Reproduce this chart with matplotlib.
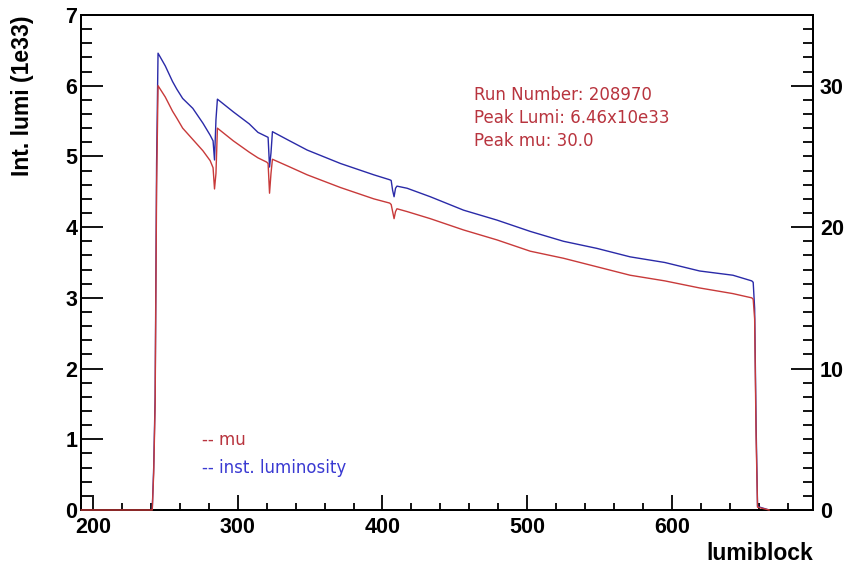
import matplotlib
matplotlib.use("Agg")
import matplotlib.pyplot as plt
from matplotlib.ticker import MultipleLocator

lumiblock = [192, 241, 242, 243, 244, 245, 250, 255, 258, 262, 269, 276, 281, 283,
             284, 285, 286, 297, 308, 314, 320, 321, 322, 323, 324, 335, 348, 371,
             394, 405, 406, 407, 408, 409, 410, 417, 433, 456, 479, 502, 525, 548,
             571, 595, 619, 642, 655, 656, 657, 658, 659, 667]

# instantaneous luminosity (1e33), left axis
inst_lumi = [0, 0, 0.6, 1.6, 4.9, 6.46, 6.28, 6.06, 5.95, 5.82, 5.68, 5.47, 5.30, 5.22,
             4.95, 5.52, 5.81, 5.63, 5.46, 5.34, 5.28, 5.27, 4.85, 5.05, 5.35, 5.23, 5.09, 4.90,
             4.74, 4.67, 4.66, 4.52, 4.43, 4.55, 4.58, 4.55, 4.43, 4.24, 4.10, 3.94, 3.80, 3.70,
             3.58, 3.50, 3.38, 3.32, 3.24, 3.22, 2.85, 1.2, 0.05, 0]

# pile-up mu, right axis
mu = [0, 0, 2.6, 7.5, 22.8, 30.0, 29.2, 28.2, 27.7, 27.0, 26.2, 25.4, 24.7, 24.2,
      22.7, 23.8, 27.0, 26.1, 25.3, 24.9, 24.6, 24.5, 22.4, 23.8, 24.8, 24.3, 23.7, 22.8,
      22.0, 21.7, 21.6, 21.1, 20.6, 21.1, 21.3, 21.1, 20.6, 19.8, 19.1, 18.3, 17.8, 17.2,
      16.6, 16.2, 15.7, 15.3, 15.0, 14.9, 13.5, 5.2, 0.2, 0]

run_info = ["Run Number: 208970", "Peak Lumi: 6.46x10e33", "Peak mu: 30.0"]

blue = "#2a2aa8"
red = "#c83a3a"
text_red = "#b8343e"
text_blue = "#3a3ad2"

fig = plt.figure(figsize=(8.44, 5.67), dpi=100)
ax = fig.add_axes([81 / 844, 57 / 567, 732 / 844, 495 / 567])
ax2 = ax.twinx()

ax.plot(lumiblock, inst_lumi, color=blue, lw=1.0)
ax2.plot(lumiblock, mu, color=red, lw=1.0, zorder=3, clip_on=False)

ax.set_xlim(191.8, 697.3)
ax.set_ylim(0, 7)
ax2.set_ylim(0, 35)

ax.xaxis.set_major_locator(MultipleLocator(100))
ax.xaxis.set_minor_locator(MultipleLocator(20))
ax.yaxis.set_major_locator(MultipleLocator(1))
ax.yaxis.set_minor_locator(MultipleLocator(0.2))
ax2.yaxis.set_major_locator(MultipleLocator(10))
ax2.yaxis.set_minor_locator(MultipleLocator(1))

for a in (ax, ax2):
    for s in a.spines.values():
        s.set_linewidth(1.4)

ax.tick_params(axis="x", which="both", direction="in", top=False, width=1.3, pad=5)
ax.tick_params(axis="x", which="major", length=10.8)
ax.tick_params(axis="x", which="minor", length=5.4)
ax.tick_params(axis="y", which="both", direction="in", right=False, width=1.3, pad=2.5)
ax.tick_params(axis="y", which="major", length=16)
ax.tick_params(axis="y", which="minor", length=8)
ax2.tick_params(axis="y", which="both", direction="in", width=1.3, pad=5)
ax2.tick_params(axis="y", which="major", length=16)
ax2.tick_params(axis="y", which="minor", length=7)

for lab in ax.get_xticklabels() + ax.get_yticklabels() + ax2.get_yticklabels():
    lab.set_fontfamily("Liberation Sans")
    lab.set_fontweight("bold")
    lab.set_fontsize(15.5)

ax.set_xlabel("lumiblock", fontfamily="Liberation Sans", fontweight="bold",
              fontsize=16.5, loc="right")
ax.xaxis.set_label_coords(1.0, -0.065)
ax.set_ylabel("Int. lumi (1e33)", fontfamily="Liberation Sans", fontweight="bold",
              fontsize=16.5, loc="top")
ax.yaxis.set_label_coords(-0.064, 1.0)

# run summary
for i, line in enumerate(run_info):
    ax.text(0.537, 0.838 - i * 0.0465, line, transform=ax.transAxes, color=text_red,
            fontsize=12, fontfamily="DejaVu Sans", va="center", ha="left")

# legend
ax.text(0.165, 0.141, "-- mu", transform=ax.transAxes, color=text_red,
        fontsize=12, fontfamily="DejaVu Sans", va="center")
ax.text(0.165, 0.085, "-- inst. luminosity", transform=ax.transAxes, color=text_blue,
        fontsize=12, fontfamily="DejaVu Sans", va="center")

fig.savefig("out.png", dpi=100)
